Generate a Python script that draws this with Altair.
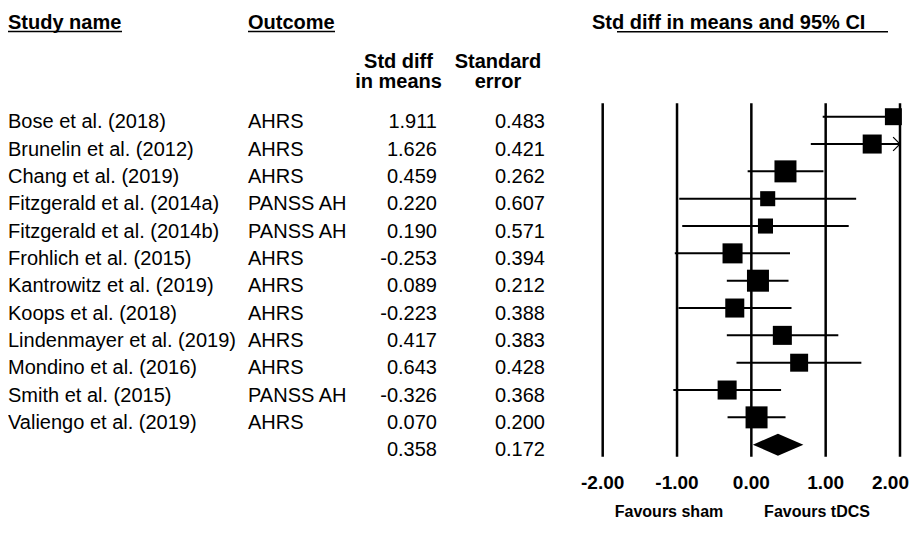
import altair as alt
import pandas as pd

# ---------------- data ----------------
studies = [
    "Bose et al. (2018)", "Brunelin et al. (2012)", "Chang et al. (2019)",
    "Fitzgerald et al. (2014a)", "Fitzgerald et al. (2014b)", "Frohlich et al. (2015)",
    "Kantrowitz et al. (2019)", "Koops et al. (2018)", "Lindenmayer et al. (2019)",
    "Mondino et al. (2016)", "Smith et al. (2015)", "Valiengo et al. (2019)",
]
outcomes = ["AHRS", "AHRS", "AHRS", "PANSS AH", "PANSS AH", "AHRS",
            "AHRS", "AHRS", "AHRS", "AHRS", "PANSS AH", "AHRS"]
smd = [1.911, 1.626, 0.459, 0.220, 0.190, -0.253, 0.089, -0.223, 0.417, 0.643, -0.326, 0.070]
se = [0.483, 0.421, 0.262, 0.607, 0.571, 0.394, 0.212, 0.388, 0.383, 0.428, 0.368, 0.200]
ci_low = [0.96, 0.80, -0.05, -0.97, -0.93, -1.03, -0.33, -0.98, -0.33, -0.20, -1.05, -0.32]
ci_high = [2.86, 2.45, 0.97, 1.41, 1.31, 0.52, 0.50, 0.54, 1.17, 1.48, 0.40, 0.46]
weights = [6.6, 8.3, 11.1, 5.2, 5.2, 9.2, 11.1, 8.3, 8.3, 7.4, 8.3, 11.1]

pooled_smd = 0.358
pooled_se = 0.172
pooled_low = 0.02
pooled_high = 0.70

axis_ticks = [-2, -1, 0, 1, 2]
tick_labels = ["-2.00", "-1.00", "0.00", "1.00", "2.00"]

# ---------------- tables ----------------
n = len(studies)
df = pd.DataFrame({
    "row": list(range(n)),
    "study": studies,
    "outcome": outcomes,
    "smd": smd,
    "se": se,
    "lo": ci_low,
    "hi": ci_high,
    "w": weights,
})
df["smd_txt"] = [f"{v:.3f}" for v in smd]
df["se_txt"] = [f"{v:.3f}" for v in se]

summary = pd.DataFrame({
    "row": [n],
    "smd_txt": [f"{pooled_smd:.3f}"],
    "se_txt": [f"{pooled_se:.3f}"],
})
num_df = pd.concat([df[["row", "smd_txt", "se_txt"]], summary], ignore_index=True)

diamond = pd.DataFrame({
    "x": [pooled_low, pooled_smd, pooled_high],
    "ytop": [n, n - 0.4, n],
    "ybot": [n, n + 0.4, n],
})
ticks_df = pd.DataFrame({"v": axis_ticks, "lab": tick_labels})

FONT = "Liberation Sans"
XS = alt.Scale(domain=[-2, 2], range=[594.7, 892])
YS = alt.Scale(domain=[0, n], range=[108.7, 436.7])
X = lambda f: alt.X(f, type="quantitative", scale=XS, axis=None)
Y = lambda f: alt.Y(f, type="quantitative", scale=YS, axis=None)
dummy = alt.Data(values=[{}])

layers = []

# vertical reference lines
layers.append(
    alt.Chart(ticks_df).mark_rule(color="black", strokeWidth=2.5).encode(
        x=X("v"), y=alt.value(95.3), y2=alt.value(448.7)
    )
)
# confidence intervals (clipped at plot limits)
layers.append(
    alt.Chart(df).transform_calculate(
        hic="min(datum.hi, 2)", loc="max(datum.lo, -2)"
    ).mark_rule(color="black", strokeWidth=2).encode(
        x=X("loc"), x2="hic:Q", y=Y("row")
    )
)
# arrow for truncated intervals
layers.append(
    alt.Chart(df).transform_filter("datum.hi > 2").transform_calculate(edge="2").mark_point(
        shape="M-1,-1L0,0L-1,1", filled=False, color="black", strokeWidth=1.2, size=190, opacity=1
    ).encode(x=X("edge"), y=Y("row"))
)
# study squares
layers.append(
    alt.Chart(df).mark_square(color="black", filled=True, opacity=1).encode(
        x=X("smd"), y=Y("row"),
        size=alt.Size("w:Q", scale=alt.Scale(type="linear", domain=[0, 11.1], range=[0, 484]), legend=None),
    )
)
# pooled diamond
layers.append(
    alt.Chart(diamond).mark_area(color="black", orient="vertical", opacity=1).encode(
        x=X("x"), y=Y("ytop"), y2="ybot:Q"
    )
)

# table columns
row_txt = dict(font=FONT, fontSize=20, baseline="alphabetic", dy=11.5, color="black")
layers.append(alt.Chart(df).mark_text(align="left", **row_txt).encode(
    x=alt.value(0), y=Y("row"), text="study:N"))
layers.append(alt.Chart(df).mark_text(align="left", **row_txt).encode(
    x=alt.value(240), y=Y("row"), text="outcome:N"))
layers.append(alt.Chart(num_df).mark_text(align="right", **row_txt).encode(
    x=alt.value(429), y=Y("row"), text="smd_txt:N"))
layers.append(alt.Chart(num_df).mark_text(align="right", **row_txt).encode(
    x=alt.value(537), y=Y("row"), text="se_txt:N"))

# axis tick labels
tick_txt = dict(font=FONT, fontSize=19, fontWeight="bold", baseline="alphabetic", color="black")
layers.append(alt.Chart(ticks_df).transform_filter("datum.v < 2").mark_text(align="center", **tick_txt).encode(
    x=X("v"), y=alt.value(481), text="lab:N"))
layers.append(alt.Chart(ticks_df).transform_filter("datum.v >= 2").mark_text(align="right", dx=9, **tick_txt).encode(
    x=X("v"), y=alt.value(481), text="lab:N"))


def label(txt, x, y, align="left", size=20):
    return alt.Chart(dummy).mark_text(
        text=txt, font=FONT, fontSize=size, fontWeight="bold",
        align=align, baseline="alphabetic", color="black"
    ).encode(x=alt.value(x), y=alt.value(y))


def underline(x1, x2, y):
    return alt.Chart(dummy).mark_rule(color="black", strokeWidth=1.5).encode(
        x=alt.value(x1), x2=alt.value(x2), y=alt.value(y)
    )


layers += [
    label("Study name", 0, 20.5),
    underline(0, 114, 23.5),
    label("Outcome", 240, 20.5),
    underline(240, 327, 23.5),
    label("Std diff in means and 95% CI", 584, 20.5),
    underline(609, 880, 23.8),
    label("Std diff", 390.5, 60, align="center"),
    label("in means", 390.5, 80, align="center"),
    label("Standard", 490, 60, align="center"),
    label("error", 490, 80, align="center"),
    label("Favours sham", 661, 509, align="center", size=16),
    label("Favours tDCS", 809, 509, align="center", size=16),
]

chart = alt.layer(*layers).properties(
    width=902, height=522,
    autosize=alt.AutoSizeParams(type="none"),
    padding=0,
    background="white",
).configure_view(stroke=None)

chart.save("out.html", embed_options={"renderer": "svg", "actions": False})
